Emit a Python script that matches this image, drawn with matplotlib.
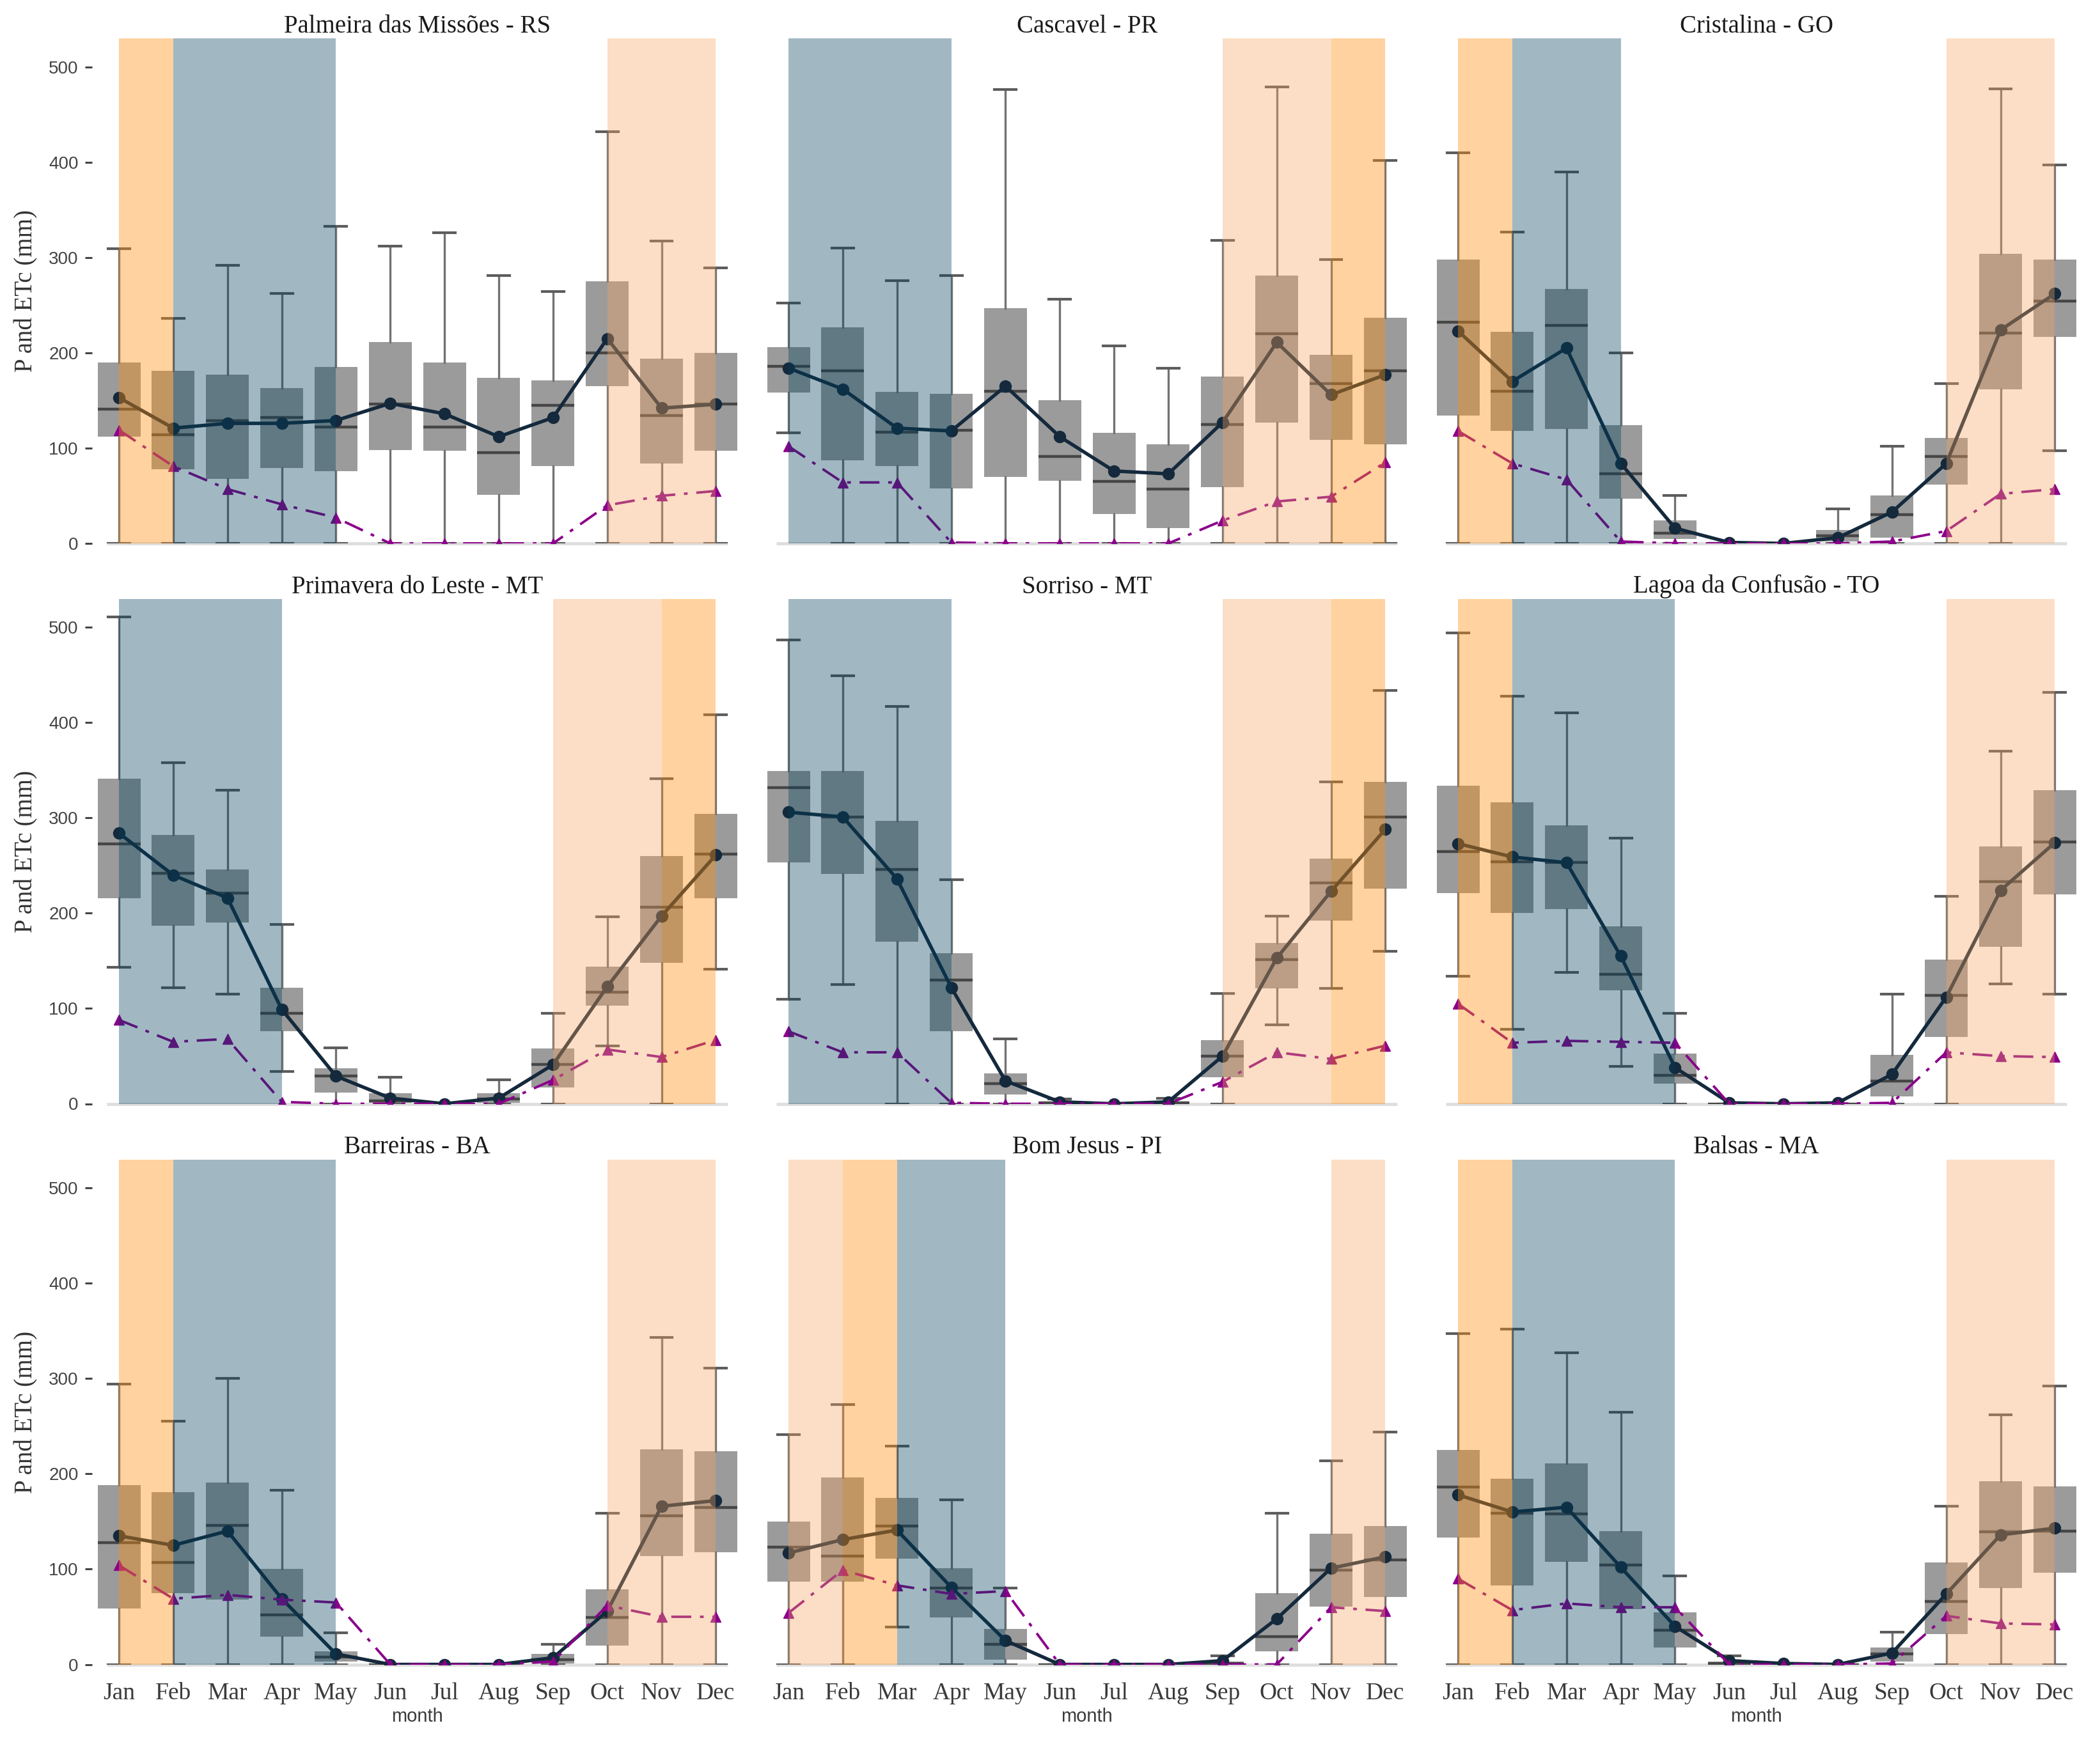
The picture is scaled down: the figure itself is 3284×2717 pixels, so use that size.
import matplotlib
matplotlib.use("Agg")
import matplotlib.pyplot as plt

months = ["Jan", "Feb", "Mar", "Apr", "May", "Jun", "Jul", "Aug", "Sep", "Oct", "Nov", "Dec"]
stations = ["Palmeira das Missões - RS", "Cascavel - PR", "Cristalina - GO",
            "Primavera do Leste - MT", "Sorriso - MT", "Lagoa da Confusão - TO",
            "Barreiras - BA", "Bom Jesus - PI", "Balsas - MA"]

# upper whisker (max)
whisker_high = [
    [309, 236, 292, 262, 333, 312, 326, 281, 264, 432, 317, 289],
    [252, 310, 276, 281, 476, 256, 207, 184, 318, 479, 298, 402],
    [410, 327, 390, 200, 50, 0, 0, 36, 102, 168, 477, 397],
    [511, 358, 329, 188, 59, 28, 0, 25, 95, 196, 341, 408],
    [487, 449, 417, 235, 68, 5, 0, 6, 116, 197, 338, 434],
    [494, 428, 410, 279, 95, 0, 0, 0, 115, 218, 370, 432],
    [294, 255, 300, 183, 33, 0, 0, 0, 21, 159, 343, 311],
    [241, 273, 229, 173, 80, 0, 0, 0, 9, 159, 214, 244],
    [347, 352, 327, 265, 93, 9, 0, 0, 34, 166, 262, 292],
]
# third quartile
q3 = [
    [190, 181, 177, 163, 185, 211, 190, 174, 171, 275, 194, 200],
    [206, 227, 159, 157, 247, 150, 116, 104, 175, 281, 198, 237],
    [298, 222, 267, 124, 24, 0, 0, 14, 50, 111, 304, 298],
    [341, 282, 246, 122, 37, 11, 0, 11, 58, 144, 260, 304],
    [349, 349, 297, 158, 32, 2, 0, 2, 67, 169, 257, 338],
    [334, 316, 292, 186, 53, 0, 0, 0, 51, 151, 270, 329],
    [188, 181, 191, 100, 14, 0, 0, 0, 11, 79, 226, 224],
    [150, 196, 175, 101, 37, 0, 0, 0, 3, 75, 137, 145],
    [225, 195, 211, 140, 55, 3, 0, 0, 18, 107, 192, 187],
]
# median
median = [
    [141, 114, 129, 132, 122, 146, 122, 95, 145, 200, 134, 146],
    [186, 181, 117, 119, 160, 91, 65, 57, 125, 220, 168, 181],
    [232, 160, 229, 73, 11, 0, 0, 8, 30, 91, 221, 254],
    [273, 242, 221, 95, 29, 3, 0, 5, 41, 117, 206, 262],
    [332, 301, 246, 130, 21, 1, 0, 1, 50, 151, 232, 301],
    [265, 254, 253, 136, 30, 0, 0, 0, 24, 114, 233, 275],
    [128, 107, 146, 52, 8, 0, 0, 0, 5, 49, 156, 165],
    [123, 114, 145, 80, 21, 0, 0, 0, 1, 29, 99, 110],
    [186, 159, 158, 104, 36, 1, 0, 0, 11, 66, 139, 140],
]
# first quartile
q1 = [
    [112, 78, 68, 79, 76, 98, 97, 51, 81, 165, 84, 97],
    [158, 87, 81, 58, 70, 66, 31, 16, 59, 127, 109, 104],
    [134, 118, 120, 47, 5, 0, 0, 2, 6, 62, 162, 217],
    [216, 187, 190, 76, 12, 1, 0, 1, 17, 103, 148, 216],
    [253, 241, 170, 76, 10, 0, 0, 0, 28, 121, 192, 226],
    [221, 200, 204, 119, 21, 0, 0, 0, 8, 70, 165, 220],
    [59, 75, 68, 29, 3, 0, 0, 0, 1, 20, 114, 118],
    [87, 87, 111, 49, 5, 0, 0, 0, 0, 14, 61, 71],
    [133, 83, 108, 58, 18, 0, 0, 0, 3, 32, 80, 96],
]
# lower whisker (min)
whisker_low = [
    [0, 0, 0, 0, 0, 0, 0, 0, 0, 0, 0, 0],
    [116, 0, 0, 0, 0, 0, 0, 0, 0, 0, 0, 0],
    [0, 0, 0, 0, 0, 0, 0, 0, 0, 0, 0, 97],
    [143, 122, 115, 34, 0, 0, 0, 0, 0, 61, 0, 141],
    [110, 125, 0, 0, 0, 0, 0, 0, 0, 83, 121, 160],
    [134, 78, 138, 39, 0, 0, 0, 0, 0, 0, 126, 115],
    [0, 0, 0, 0, 0, 0, 0, 0, 0, 0, 0, 0],
    [0, 0, 39, 0, 0, 0, 0, 0, 0, 0, 0, 0],
    [0, 0, 0, 0, 0, 0, 0, 0, 0, 0, 0, 0],
]
# mean precipitation P (mm)
p_mean = [
    [153, 121, 126, 126, 129, 147, 136, 112, 132, 215, 142, 146],
    [184, 162, 121, 118, 165, 112, 76, 73, 127, 211, 156, 177],
    [223, 170, 205, 84, 16, 1, 0, 6, 33, 84, 224, 262],
    [284, 240, 216, 99, 29, 6, 0, 6, 41, 123, 197, 261],
    [306, 301, 236, 122, 24, 2, 0, 2, 50, 153, 223, 288],
    [273, 259, 253, 155, 38, 1, 0, 1, 31, 112, 224, 274],
    [135, 125, 140, 69, 11, 0, 0, 0, 7, 56, 166, 172],
    [117, 131, 141, 81, 25, 0, 0, 0, 4, 48, 101, 113],
    [178, 160, 165, 102, 40, 4, 1, 0, 12, 74, 136, 143],
]
# crop evapotranspiration ETc (mm)
etc = [
    [119, 81, 57, 41, 27, 0, 0, 0, 0, 40, 50, 55],
    [102, 64, 64, 1, 0, 0, 0, 0, 24, 44, 49, 85],
    [118, 84, 67, 2, 0, 0, 0, 0, 2, 13, 52, 57],
    [88, 65, 68, 2, 0, 0, 0, 0, 25, 57, 49, 67],
    [76, 54, 54, 1, 0, 0, 0, 0, 23, 54, 47, 61],
    [105, 64, 66, 65, 64, 0, 0, 0, 1, 54, 50, 49],
    [104, 69, 73, 68, 65, 0, 0, 0, 3, 62, 50, 50],
    [54, 99, 83, 74, 77, 0, 0, 0, 0, 0, 60, 56],
    [90, 57, 64, 60, 60, 0, 0, 0, 1, 51, 43, 42],
]
# crop season periods: (start month index, end month index, kind)
seasons = [
    [(0, 1, "harvest"), (1, 4, "second"), (9, 11, "sowing")],
    [(0, 3, "second"), (8, 10, "sowing"), (10, 11, "harvest")],
    [(0, 1, "harvest"), (1, 3, "second"), (9, 11, "sowing")],
    [(0, 3, "second"), (8, 10, "sowing"), (10, 11, "harvest")],
    [(0, 3, "second"), (8, 10, "sowing"), (10, 11, "harvest")],
    [(0, 1, "harvest"), (1, 4, "second"), (9, 11, "sowing")],
    [(0, 1, "harvest"), (1, 4, "second"), (9, 11, "sowing")],
    [(0, 1, "sowing"), (1, 2, "harvest"), (2, 4, "second"), (10, 11, "sowing")],
    [(0, 1, "harvest"), (1, 4, "second"), (9, 11, "sowing")],
]

span_style = {
    "harvest": ("#ff9011", 0.40),
    "second": ("#003f5c", 0.37),
    "sowing": ("#f4a460", 0.36),
}

SERIF = ["Liberation Serif", "DejaVu Serif"]
SANS = ["Liberation Sans", "DejaVu Sans"]

W, H = 3284, 2717
fig = plt.figure(figsize=(W / 100, H / 100), dpi=100)

lefts = [143.6 / W, 1190.6 / W, 2237.6 / W]
bottoms = [(H - 850) / H, (H - 1726.5) / H, (H - 2603.5) / H]
aw = 1018.2 / W
ah = 790 / H

x = list(range(12))

for k, name in enumerate(stations):
    r, c = divmod(k, 3)
    ax = fig.add_axes([lefts[c], bottoms[r], aw, ah])
    stats = []
    for i in range(12):
        stats.append(dict(med=median[k][i], q1=q1[k][i], q3=q3[k][i],
                          whislo=whisker_low[k][i], whishi=whisker_high[k][i],
                          fliers=[]))
    ax.bxp(stats, positions=x, widths=0.79, capwidths=0.4, patch_artist=True,
           showfliers=False, manage_ticks=False,
           boxprops=dict(facecolor="#9b9b9b", edgecolor="none", linewidth=0),
           whiskerprops=dict(color="#727272", linewidth=2.4),
           capprops=dict(color="#5c5c5c", linewidth=3.0),
           medianprops=dict(color="#464646", linewidth=3.2))
    ax.hlines(0, -0.22, 11.22, color="#dedede", linewidth=3.5, zorder=1.5, clip_on=False)
    ax.plot(x, p_mean[k], color="#14293c", linewidth=3.9, marker="o", markersize=13,
            zorder=4)
    ax.plot(x, etc[k], color="#8b008b", linewidth=2.8, linestyle=(0, (8, 3.5, 1.5, 3.5)),
            marker="^", markersize=11.5, zorder=5)
    for s, e, kind in seasons[k]:
        col, a = span_style[kind]
        ax.axvspan(s, e, color=col, alpha=a, linewidth=0, zorder=10)

    ax.set_xlim(-0.5, 11.5)
    ax.set_ylim(0, 530)
    for sp in ax.spines.values():
        sp.set_visible(False)
    ax.set_title(name, fontsize=28, family=SERIF, color="#1a1a1a", pad=6)

    ax.set_xticks(x)
    if r == 2:
        ax.set_xticklabels(months, fontsize=27, family=SERIF, color="#3a3a3a")
        ax.tick_params(axis="x", length=0, pad=20)
        ax.set_xlabel("month", fontsize=21, family=SANS, color="#3a3a3a", labelpad=4)
    else:
        ax.tick_params(axis="x", length=0, labelbottom=False)

    ax.set_yticks([0, 100, 200, 300, 400, 500])
    if c == 0:
        ax.set_yticklabels(["0", "100", "200", "300", "400", "500"], fontsize=20,
                           family=SANS, color="#444444")
        ax.tick_params(axis="y", length=8, width=2.2, color="#444444", pad=7)
        ax.set_ylabel("P and ETc (mm)", fontsize=28, family=SERIF, color="#333333",
                      labelpad=12)
    else:
        ax.tick_params(axis="y", length=0, labelleft=False)

fig.savefig("out.png", dpi=100)
